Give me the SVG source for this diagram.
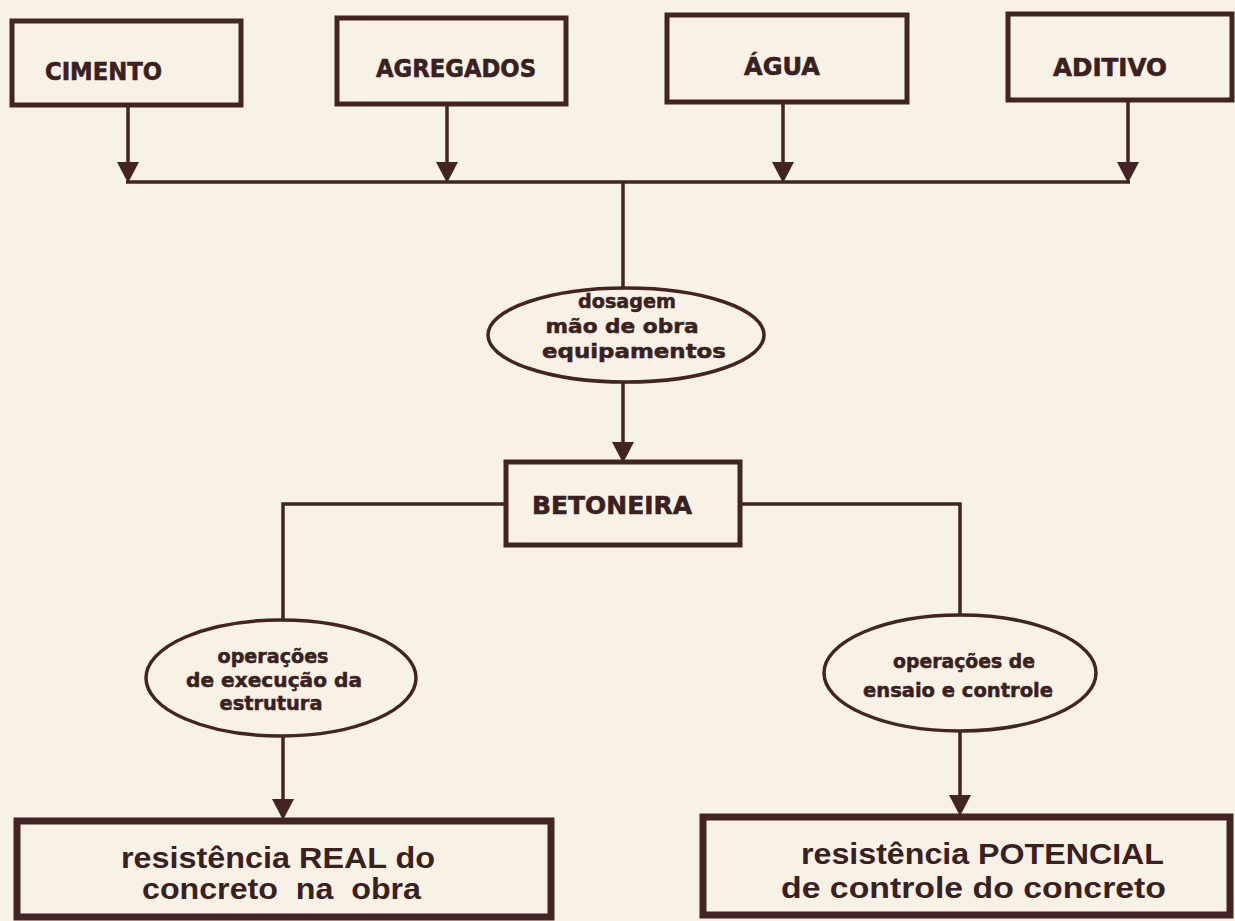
<svg xmlns="http://www.w3.org/2000/svg" width="1235" height="921" viewBox="0 0 1235 921">
<style>
.bx{fill:none;stroke:#432323;stroke-width:5}
.bx2{fill:none;stroke:#432323;stroke-width:7}
.el{fill:none;stroke:#432323;stroke-width:3.5}
.ln{fill:none;stroke:#432323;stroke-width:3.5}
.ah{fill:#432323}
.cap{font-family:"DejaVu Sans","Liberation Sans",sans-serif;font-weight:bold;font-size:24px;fill:#3a2020;stroke:#3a2020;stroke-width:0.6}
.sm{font-family:"DejaVu Sans","Liberation Sans",sans-serif;font-weight:bold;font-size:19px;fill:#3a2020;stroke:#3a2020;stroke-width:0.5;text-anchor:middle}
.big{font-family:"Liberation Sans","DejaVu Sans",sans-serif;font-weight:bold;font-size:30px;fill:#3a2020}
</style>
<defs>
<polygon id="arr" points="-11,-20 11,-20 0,1"/>
</defs>
<rect x="0" y="0" width="1235" height="921" fill="#f8f2e6"/>
<g id="connectors">
<line class="ln" x1="128" y1="105" x2="128" y2="170"/>
<line class="ln" x1="447" y1="104" x2="447" y2="170"/>
<line class="ln" x1="783" y1="102" x2="783" y2="170"/>
<line class="ln" x1="1128" y1="100" x2="1128" y2="170"/>
<line class="ln" x1="126" y1="182" x2="1130" y2="182"/>
<use href="#arr" x="128" y="182" class="ah"/>
<use href="#arr" x="447" y="182" class="ah"/>
<use href="#arr" x="783" y="182" class="ah"/>
<use href="#arr" x="1128" y="182" class="ah"/>
<line class="ln" x1="623" y1="182" x2="623" y2="288"/>
<line class="ln" x1="623" y1="382" x2="623" y2="450"/>
<use href="#arr" x="623" y="462" class="ah"/>
<polyline class="ln" points="506,504 283,504 283,621"/>
<polyline class="ln" points="740,504 960,504 960,615"/>
<line class="ln" x1="283" y1="736" x2="283" y2="808"/>
<use href="#arr" x="283" y="819" class="ah"/>
<line class="ln" x1="960" y1="731" x2="960" y2="804"/>
<use href="#arr" x="960" y="815" class="ah"/>
</g>
<g id="cimento">
<rect class="bx" x="12" y="21" width="229" height="84"/>
<text class="cap" x="45" y="80" textLength="117" lengthAdjust="spacingAndGlyphs">CIMENTO</text>
</g>
<g id="agregados">
<rect class="bx" x="337" y="18" width="229" height="86"/>
<text class="cap" x="376" y="77" textLength="160" lengthAdjust="spacingAndGlyphs">AGREGADOS</text>
</g>
<g id="agua">
<rect class="bx" x="667" y="15" width="240" height="87"/>
<text class="cap" x="744" y="75" textLength="76" lengthAdjust="spacingAndGlyphs">ÁGUA</text>
</g>
<g id="aditivo">
<rect class="bx" x="1008" y="14" width="224" height="86"/>
<text class="cap" x="1053" y="76" textLength="114" lengthAdjust="spacingAndGlyphs">ADITIVO</text>
</g>
<g id="dosagem">
<ellipse class="el" cx="626" cy="335" rx="138" ry="47"/>
<text class="sm" x="627" y="308" textLength="98" lengthAdjust="spacingAndGlyphs">dosagem</text>
<text class="sm" x="622" y="333" textLength="153" lengthAdjust="spacingAndGlyphs">mão de obra</text>
<text class="sm" x="634" y="358" textLength="184" lengthAdjust="spacingAndGlyphs">equipamentos</text>
</g>
<g id="betoneira">
<rect class="bx" x="506" y="462" width="234" height="83"/>
<text class="cap" x="532" y="514" textLength="160" lengthAdjust="spacingAndGlyphs">BETONEIRA</text>
</g>
<g id="execucao">
<ellipse class="el" cx="281" cy="678" rx="135" ry="58"/>
<text class="sm" x="273" y="663" textLength="111" lengthAdjust="spacingAndGlyphs">operações</text>
<text class="sm" x="274" y="687" textLength="176" lengthAdjust="spacingAndGlyphs">de execução da</text>
<text class="sm" x="271" y="710" textLength="103" lengthAdjust="spacingAndGlyphs">estrutura</text>
</g>
<g id="ensaio">
<ellipse class="el" cx="960" cy="673" rx="136" ry="58"/>
<text class="sm" x="964" y="668" textLength="142" lengthAdjust="spacingAndGlyphs">operações de</text>
<text class="sm" x="958" y="697" textLength="190" lengthAdjust="spacingAndGlyphs">ensaio e controle</text>
</g>
<g id="real">
<rect class="bx2" x="17" y="821" width="534" height="96"/>
<text class="big" x="121" y="868" textLength="314" lengthAdjust="spacingAndGlyphs">resistência REAL do</text>
<text class="big" x="142" y="899" textLength="279" lengthAdjust="spacingAndGlyphs" xml:space="preserve">concreto  na  obra</text>
</g>
<g id="potencial">
<rect class="bx2" x="703" y="817" width="527" height="98"/>
<text class="big" x="801" y="864" textLength="363" lengthAdjust="spacingAndGlyphs">resistência POTENCIAL</text>
<text class="big" x="781" y="898" textLength="385" lengthAdjust="spacingAndGlyphs">de controle do concreto</text>
</g>
</svg>
